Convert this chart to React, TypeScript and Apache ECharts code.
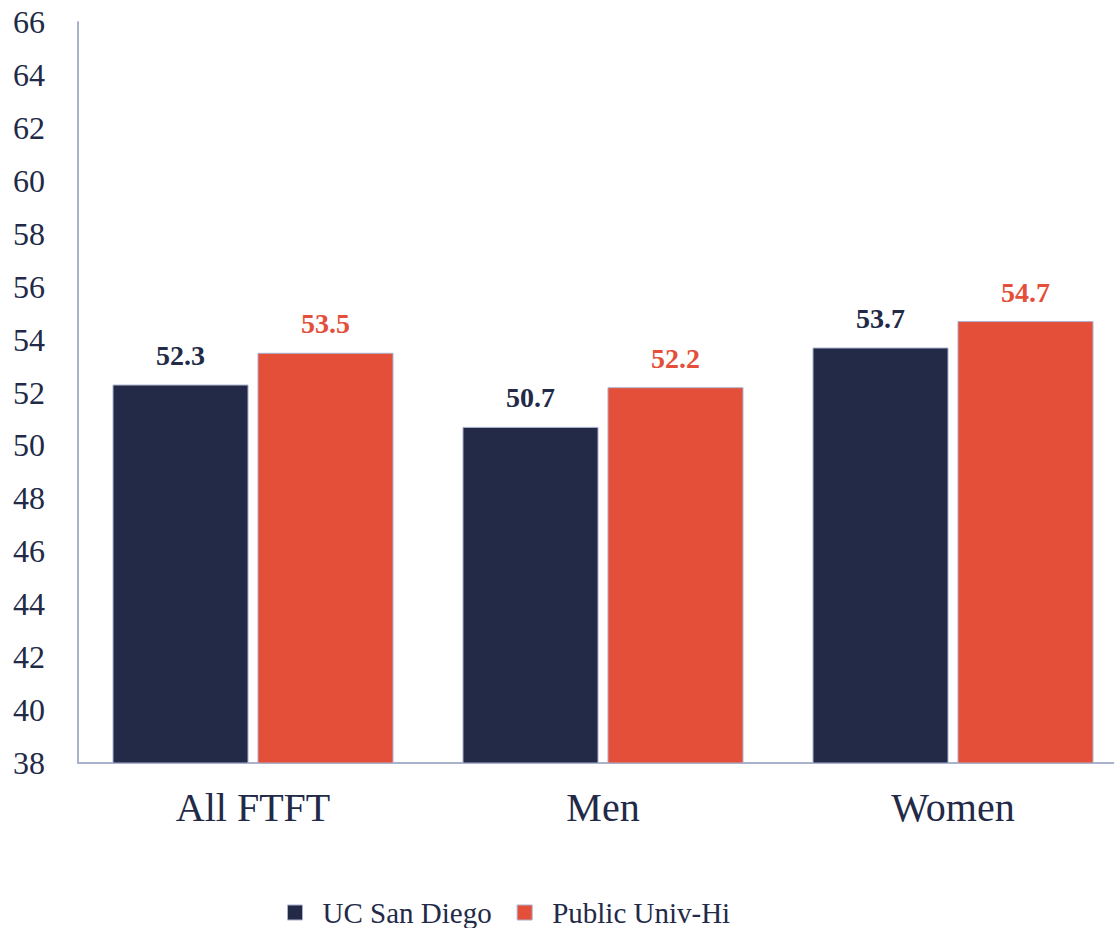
import React, { useEffect, useRef } from "react";
import * as echarts from "echarts";

const categories = ["All FTFT", "Men", "Women"];
const ucsd = [52.3, 50.7, 53.7];
const publicHi = [53.5, 52.2, 54.7];
const seriesNames = ["UC San Diego", "Public Univ-Hi"];

const NAVY = "#222a47";
const RED = "#e44f3a";
const AXIS = "#aab1cc";
const FONT = "Liberation Serif";

export default function App() {
  const ref = useRef<HTMLDivElement>(null);
  useEffect(() => {
    const chart = echarts.init(ref.current!, null, { renderer: "svg" });
    chart.setOption({
      animation: false,
      textStyle: { fontFamily: FONT },
      grid: {
        left: 78,
        top: 22,
        width: 1050,
        height: 741,
        containLabel: false,
        outerBoundsMode: "none",
      },
      legend: {
        left: 282,
        top: 893,
        itemWidth: 15,
        itemHeight: 15,
        itemGap: 25,
        icon: "rect",
        textStyle: { fontFamily: FONT, fontSize: 29, color: NAVY, padding: [0, 0, 0, 15] },
        data: [
          { name: seriesNames[0], itemStyle: { color: NAVY, borderColor: AXIS, borderWidth: 1 } },
          { name: seriesNames[1], itemStyle: { color: RED, borderColor: AXIS, borderWidth: 1 } },
        ],
      },
      xAxis: {
        type: "category",
        data: categories,
        axisLine: { show: true, lineStyle: { color: AXIS, width: 2 } },
        axisTick: { show: false },
        axisLabel: { fontFamily: FONT, fontSize: 40, color: NAVY, margin: 24 },
      },
      yAxis: {
        type: "value",
        min: 38,
        max: 66,
        interval: 2,
        axisLine: { show: true, lineStyle: { color: AXIS, width: 2 } },
        axisTick: { show: false },
        splitLine: { show: false },
        axisLabel: { fontFamily: FONT, fontSize: 32, color: NAVY, margin: 33 },
      },
      series: [
        {
          name: seriesNames[0],
          type: "bar",
          data: ucsd,
          barWidth: 136,
          barGap: "6.6%",
          itemStyle: { color: NAVY, borderColor: AXIS, borderWidth: 1 },
          label: {
            show: true,
            position: "top",
            distance: 15,
            fontFamily: FONT,
            fontSize: 28,
            fontWeight: "bold",
            color: NAVY,
          },
        },
        {
          name: seriesNames[1],
          type: "bar",
          data: publicHi,
          barWidth: 136,
          barGap: "6.6%",
          itemStyle: { color: RED, borderColor: AXIS, borderWidth: 1 },
          label: {
            show: true,
            position: "top",
            distance: 15,
            fontFamily: FONT,
            fontSize: 28,
            fontWeight: "bold",
            color: RED,
          },
        },
      ],
    });
    return () => chart.dispose();
  }, []);
  return (
    <div
      ref={ref}
      style={{ position: "fixed", left: 0, top: 0, width: 1114, height: 928, background: "#fff" }}
    />
  );
}
